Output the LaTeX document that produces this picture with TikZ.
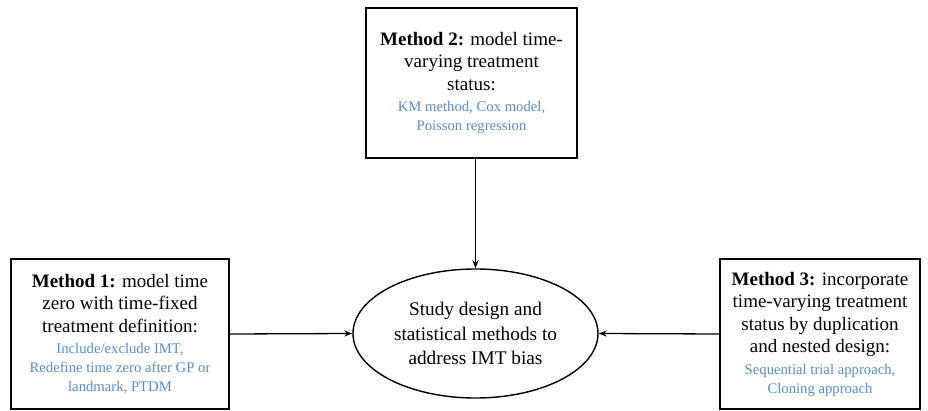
\documentclass[tikz,border=0pt]{standalone}
\usepackage{fontspec}
\setmainfont{Liberation Serif}
\usetikzlibrary{shapes.geometric,arrows.meta}
\definecolor{subblue}{RGB}{88,140,200}
\newcommand\subtxt{\color{subblue}\fontsize{14.7}{17}\selectfont}
\begin{document}
\begin{tikzpicture}[x=1pt,y=-1pt,
  box/.style={draw, line width=1.6pt, align=center, font=\fontsize{19}{22.5}\selectfont, inner sep=0pt},
  ell/.style={draw, ellipse, line width=1.4pt, align=center, font=\fontsize{19.3}{24.5}\selectfont, inner sep=0pt},
  conn/.style={line width=1.3pt, -{Stealth[length=8pt,width=6pt]}}]
\useasboundingbox (0,0) rectangle (928,411);
\node[box, minimum width=211pt, minimum height=150pt] (m2) at (471.5,83)
  {\textbf{Method 2:} model time-\\ varying treatment\\ status:\\[-1pt] \subtxt KM method, Cox model,\\[-3.5pt] \subtxt Poisson regression};
\node[box, minimum width=218pt, minimum height=150pt] (m1) at (120,334)
  {\textbf{Method 1:} model time\\ zero with time-fixed\\ treatment definition:\\[-1pt] \subtxt Include/exclude IMT,\\[-3.5pt] \subtxt Redefine time zero after GP or\\[-3.5pt] \subtxt landmark, PTDM};
\node[box, minimum width=200pt, minimum height=150pt] (m3) at (820,334)
  {\textbf{Method 3:} incorporate\\ time-varying treatment\\ status by duplication\\ and nested design:\\[-1pt] \subtxt Sequential trial approach,\\[-3.5pt] \subtxt Cloning approach};
\node[ell, minimum width=245pt, minimum height=129pt] (c) at (475.5,333.5)
  {Study design and\\ statistical methods to\\ address IMT bias};
\draw[conn] (m2.south -| c.north) -- (c.north);
\draw[conn] (m1.east) -- (c.west);
\draw[conn] (m3.west) -- (c.east);
\end{tikzpicture}
\end{document}
